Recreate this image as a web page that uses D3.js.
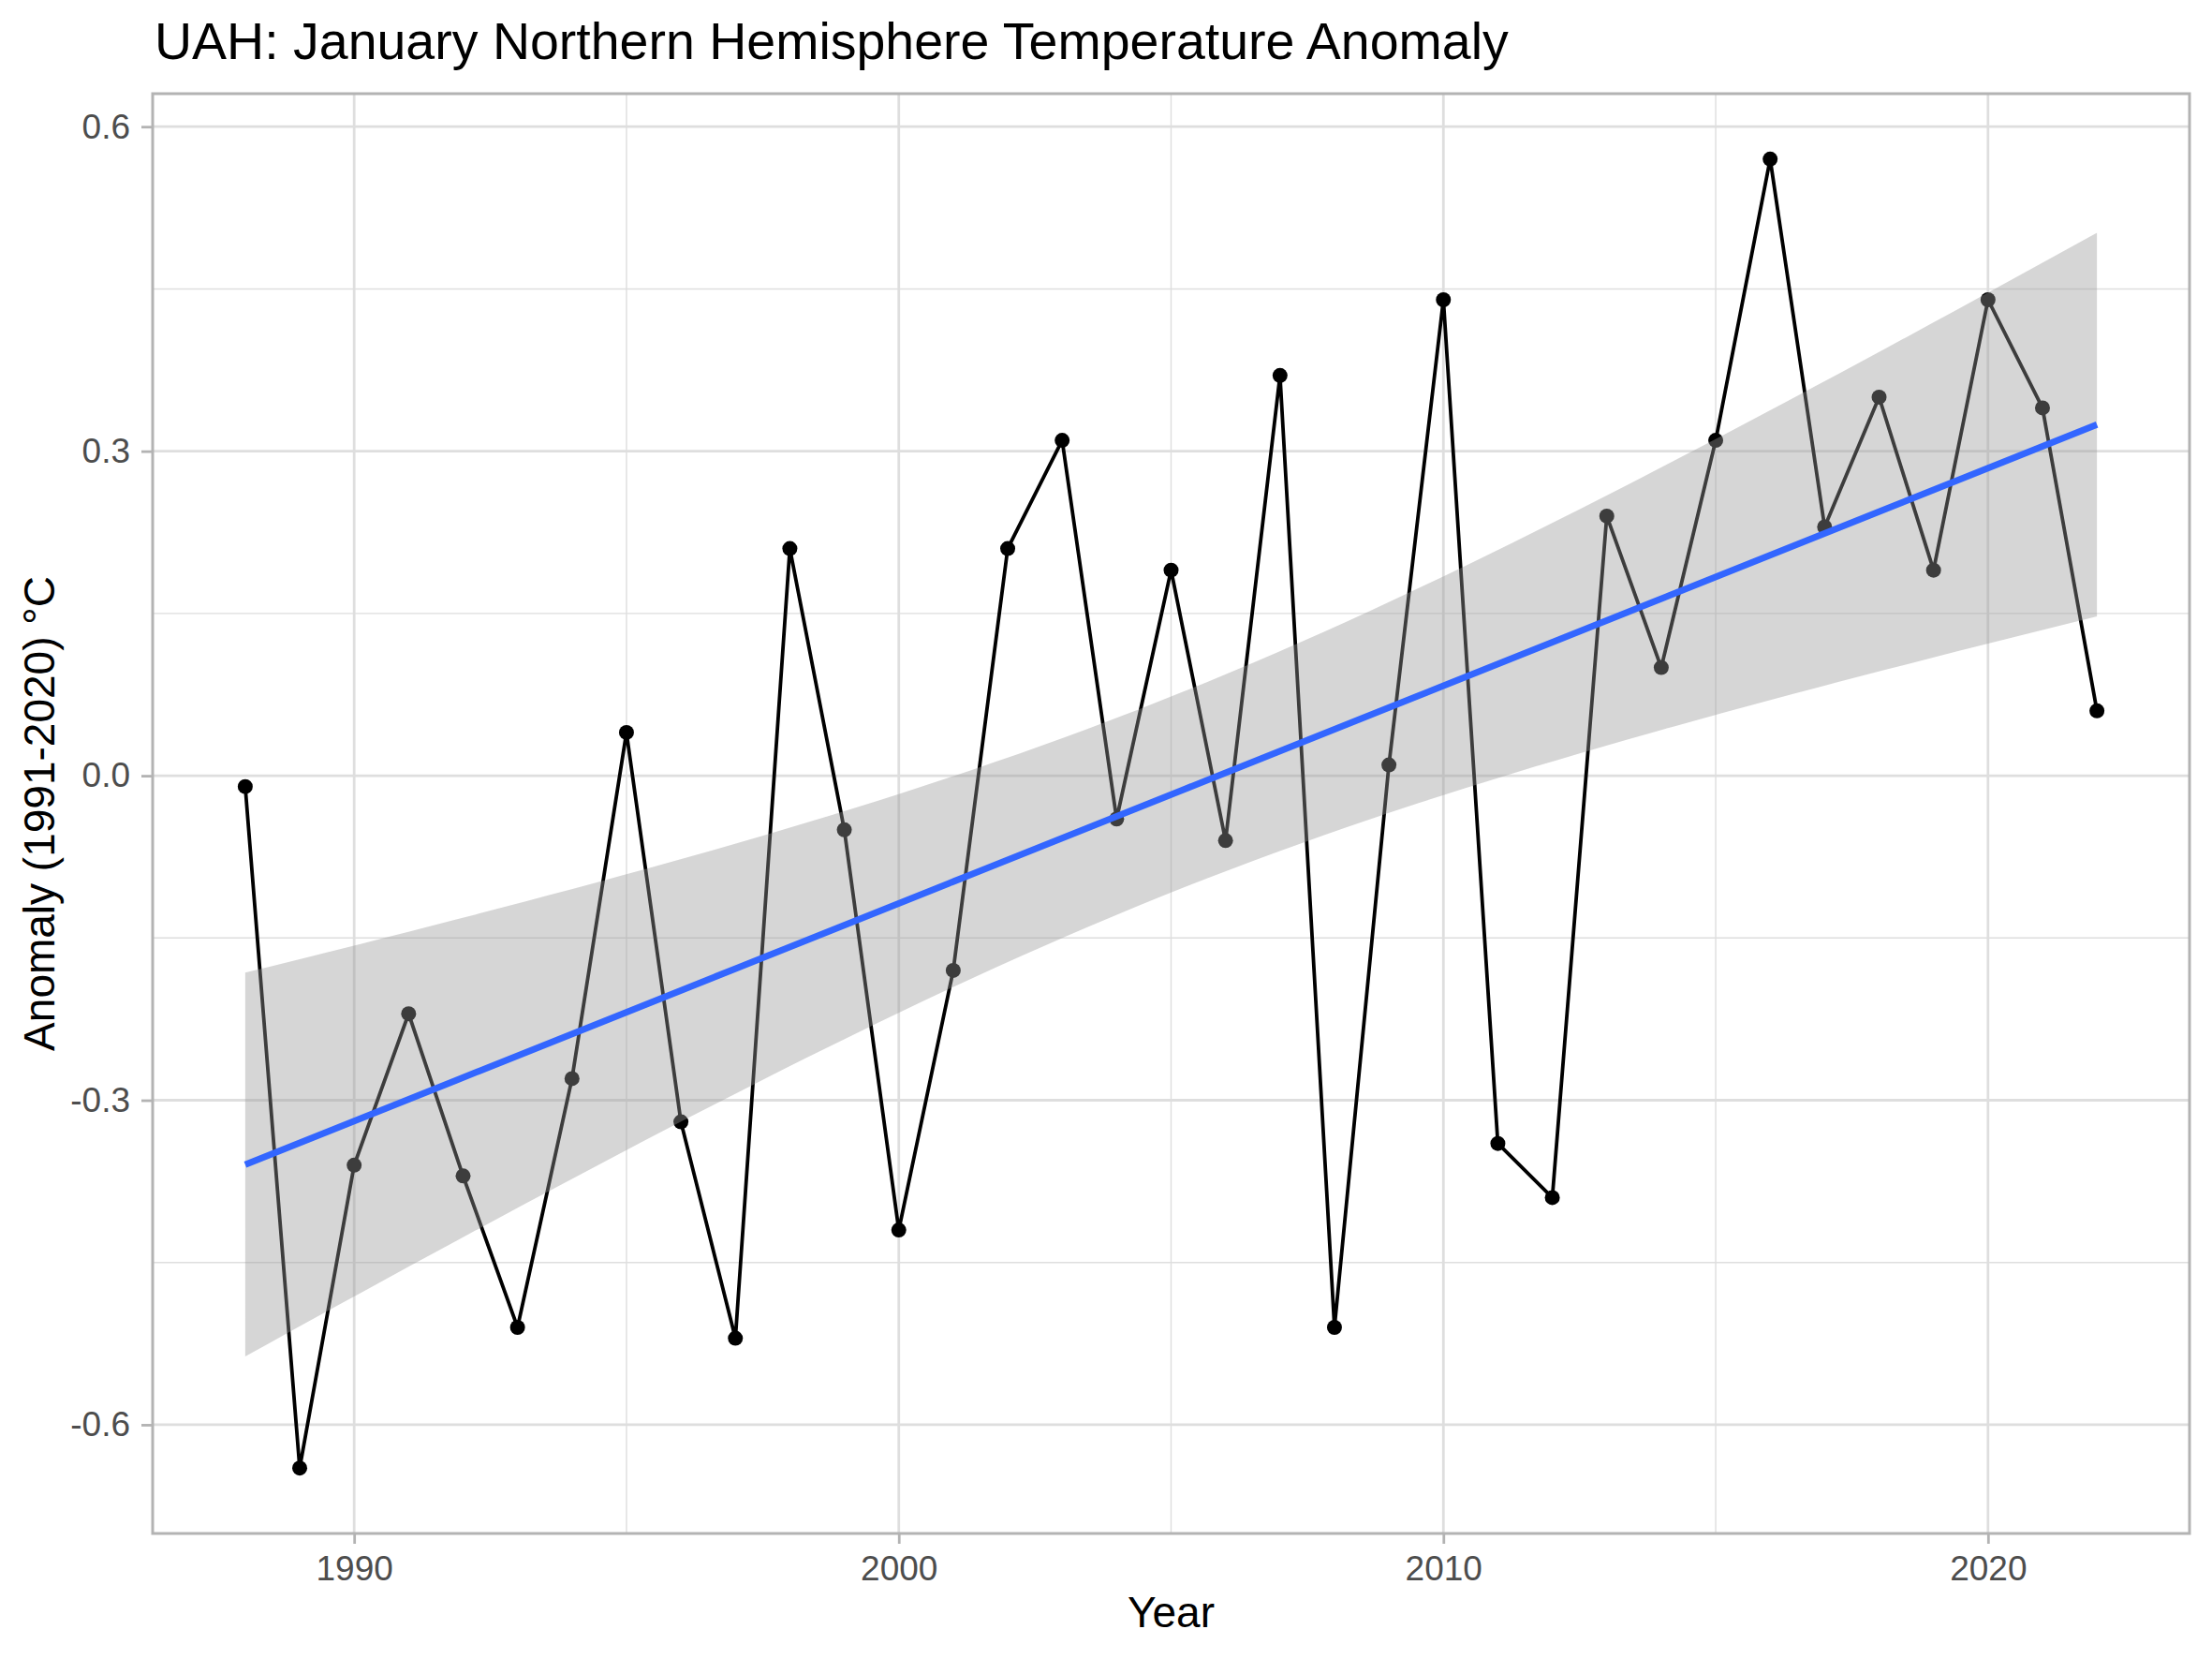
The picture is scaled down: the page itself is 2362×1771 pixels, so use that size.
<!DOCTYPE html>
<html>
<head>
<meta charset="utf-8">
<script src="https://cdn.jsdelivr.net/npm/d3@7"></script>
<style>
  body { margin: 0; background: #fff; }
  text { font-family: "Liberation Sans", Arial, sans-serif; }
</style>
</head>
<body>
<svg id="chart"></svg>
<script>
// January NH anomalies, UAH
var years = [1988, 1989, 1990, 1991, 1992, 1993, 1994, 1995, 1996, 1997,
             1998, 1999, 2000, 2001, 2002, 2003, 2004, 2005, 2006, 2007,
             2008, 2009, 2010, 2011, 2012, 2013, 2014, 2015, 2016, 2017,
             2018, 2019, 2020, 2021, 2022];
var anomaly = [-0.01, -0.64, -0.36, -0.22, -0.37, -0.51, -0.28, 0.04, -0.32, -0.52,
               0.21, -0.05, -0.42, -0.18, 0.21, 0.31, -0.04, 0.19, -0.06, 0.37,
               -0.51, 0.01, 0.44, -0.34, -0.39, 0.24, 0.10, 0.31, 0.57, 0.23,
               0.35, 0.19, 0.44, 0.34, 0.06];
var xTicks = [1990, 2000, 2010, 2020];
var xMinor = [1995, 2005, 2015];
var yTicks = [-0.6, -0.3, 0.0, 0.3, 0.6];
var yMinor = [-0.45, -0.15, 0.15, 0.45];

var W = 2362, H = 1771;
var m = {left: 163, right: 2338, top: 100, bottom: 1637};

var svg = d3.select('#chart').attr('width', W).attr('height', H);
svg.append('rect').attr('width', W).attr('height', H).attr('fill', '#fff');

// ggplot style 5% expansion
var xe = (d3.max(years) - d3.min(years)) * 0.05;
var ye = (d3.max(anomaly) - d3.min(anomaly)) * 0.05;
var x = d3.scaleLinear().domain([d3.min(years) - xe, d3.max(years) + xe]).range([m.left, m.right]);
var y = d3.scaleLinear().domain([d3.min(anomaly) - ye, d3.max(anomaly) + ye]).range([m.bottom, m.top]);

var data = years.map(function(d, i) { return {year: d, v: anomaly[i]}; });

// linear fit + 95% confidence band (like geom_smooth(method = "lm"))
var n = data.length;
var mx = d3.mean(years), my = d3.mean(anomaly);
var sxx = d3.sum(years, function(d) { return (d - mx) * (d - mx); });
var sxy = d3.sum(data, function(d) { return (d.year - mx) * (d.v - my); });
var slope = sxy / sxx, icpt = my - slope * mx;
var sse = d3.sum(data, function(d) { var r = d.v - (icpt + slope * d.year); return r * r; });
var s = Math.sqrt(sse / (n - 2));
var tq = 2.0345; // qt(0.975, 33)
var fit = d3.range(80).map(function(i) {
  var xx = d3.min(years) + i * (d3.max(years) - d3.min(years)) / 79;
  var yh = icpt + slope * xx;
  var se = s * Math.sqrt(1 / n + (xx - mx) * (xx - mx) / sxx);
  return {x: xx, y: yh, lo: yh - tq * se, hi: yh + tq * se};
});

// grid
var g = svg.append('g');
g.selectAll('.vminor').data(xMinor).enter().append('line')
  .attr('x1', x).attr('x2', x).attr('y1', m.top).attr('y2', m.bottom)
  .attr('stroke', '#dedede').attr('stroke-width', 1.4);
g.selectAll('.hminor').data(yMinor).enter().append('line')
  .attr('y1', y).attr('y2', y).attr('x1', m.left).attr('x2', m.right)
  .attr('stroke', '#dedede').attr('stroke-width', 1.4);
g.selectAll('.vmajor').data(xTicks).enter().append('line')
  .attr('x1', x).attr('x2', x).attr('y1', m.top).attr('y2', m.bottom)
  .attr('stroke', '#dedede').attr('stroke-width', 2.8);
g.selectAll('.hmajor').data(yTicks).enter().append('line')
  .attr('y1', y).attr('y2', y).attr('x1', m.left).attr('x2', m.right)
  .attr('stroke', '#dedede').attr('stroke-width', 2.8);

// data line and points
svg.append('path').datum(data)
  .attr('d', d3.line().x(function(d) { return x(d.year); }).y(function(d) { return y(d.v); }))
  .attr('fill', 'none').attr('stroke', '#000').attr('stroke-width', 3.8);
svg.selectAll('.pt').data(data).enter().append('circle')
  .attr('cx', function(d) { return x(d.year); })
  .attr('cy', function(d) { return y(d.v); })
  .attr('r', 8).attr('fill', '#000');

// ribbon on top, then fit line
svg.append('path').datum(fit)
  .attr('d', d3.area().x(function(d) { return x(d.x); })
    .y0(function(d) { return y(d.lo); }).y1(function(d) { return y(d.hi); }))
  .attr('fill', '#999999').attr('fill-opacity', 0.4);
svg.append('path').datum(fit)
  .attr('d', d3.line().x(function(d) { return x(d.x); }).y(function(d) { return y(d.y); }))
  .attr('fill', 'none').attr('stroke', '#3366ff').attr('stroke-width', 7);

// panel border
svg.append('rect').attr('x', m.left).attr('y', m.top)
  .attr('width', m.right - m.left).attr('height', m.bottom - m.top)
  .attr('fill', 'none').attr('stroke', '#b3b3b3').attr('stroke-width', 3);

// axes
var xAxis = svg.append('g').attr('transform', 'translate(0,' + m.bottom + ')')
  .call(d3.axisBottom(x).tickValues(xTicks).tickFormat(d3.format('d')).tickSize(11).tickPadding(13));
var yAxis = svg.append('g').attr('transform', 'translate(' + m.left + ',0)')
  .call(d3.axisLeft(y).tickValues(yTicks).tickFormat(function(d) { return d3.format('.1f')(d).replace('−', '-'); }).tickSize(12).tickPadding(12));
[xAxis, yAxis].forEach(function(a) {
  a.select('.domain').remove();
  a.selectAll('.tick line').attr('stroke', '#b3b3b3').attr('stroke-width', 2.8);
  a.selectAll('.tick text').attr('fill', '#4d4d4d').style('font-size', '37px')
    .style('font-family', '"Liberation Sans", Arial, sans-serif');
});

// titles
svg.append('text').attr('x', 165).attr('y', 63).attr('fill', '#000')
  .style('font-size', '55.5px').text('UAH: January Northern Hemisphere Temperature Anomaly');
svg.append('text').attr('x', (m.left + m.right) / 2).attr('y', 1737)
  .attr('text-anchor', 'middle').attr('fill', '#000').style('font-size', '46px').text('Year');
svg.append('text')
  .attr('transform', 'translate(58,' + (m.top + m.bottom) / 2 + ') rotate(-90)')
  .attr('text-anchor', 'middle').attr('fill', '#000').style('font-size', '46px')
  .text('Anomaly (1991-2020) °C');
</script>
</body>
</html>
